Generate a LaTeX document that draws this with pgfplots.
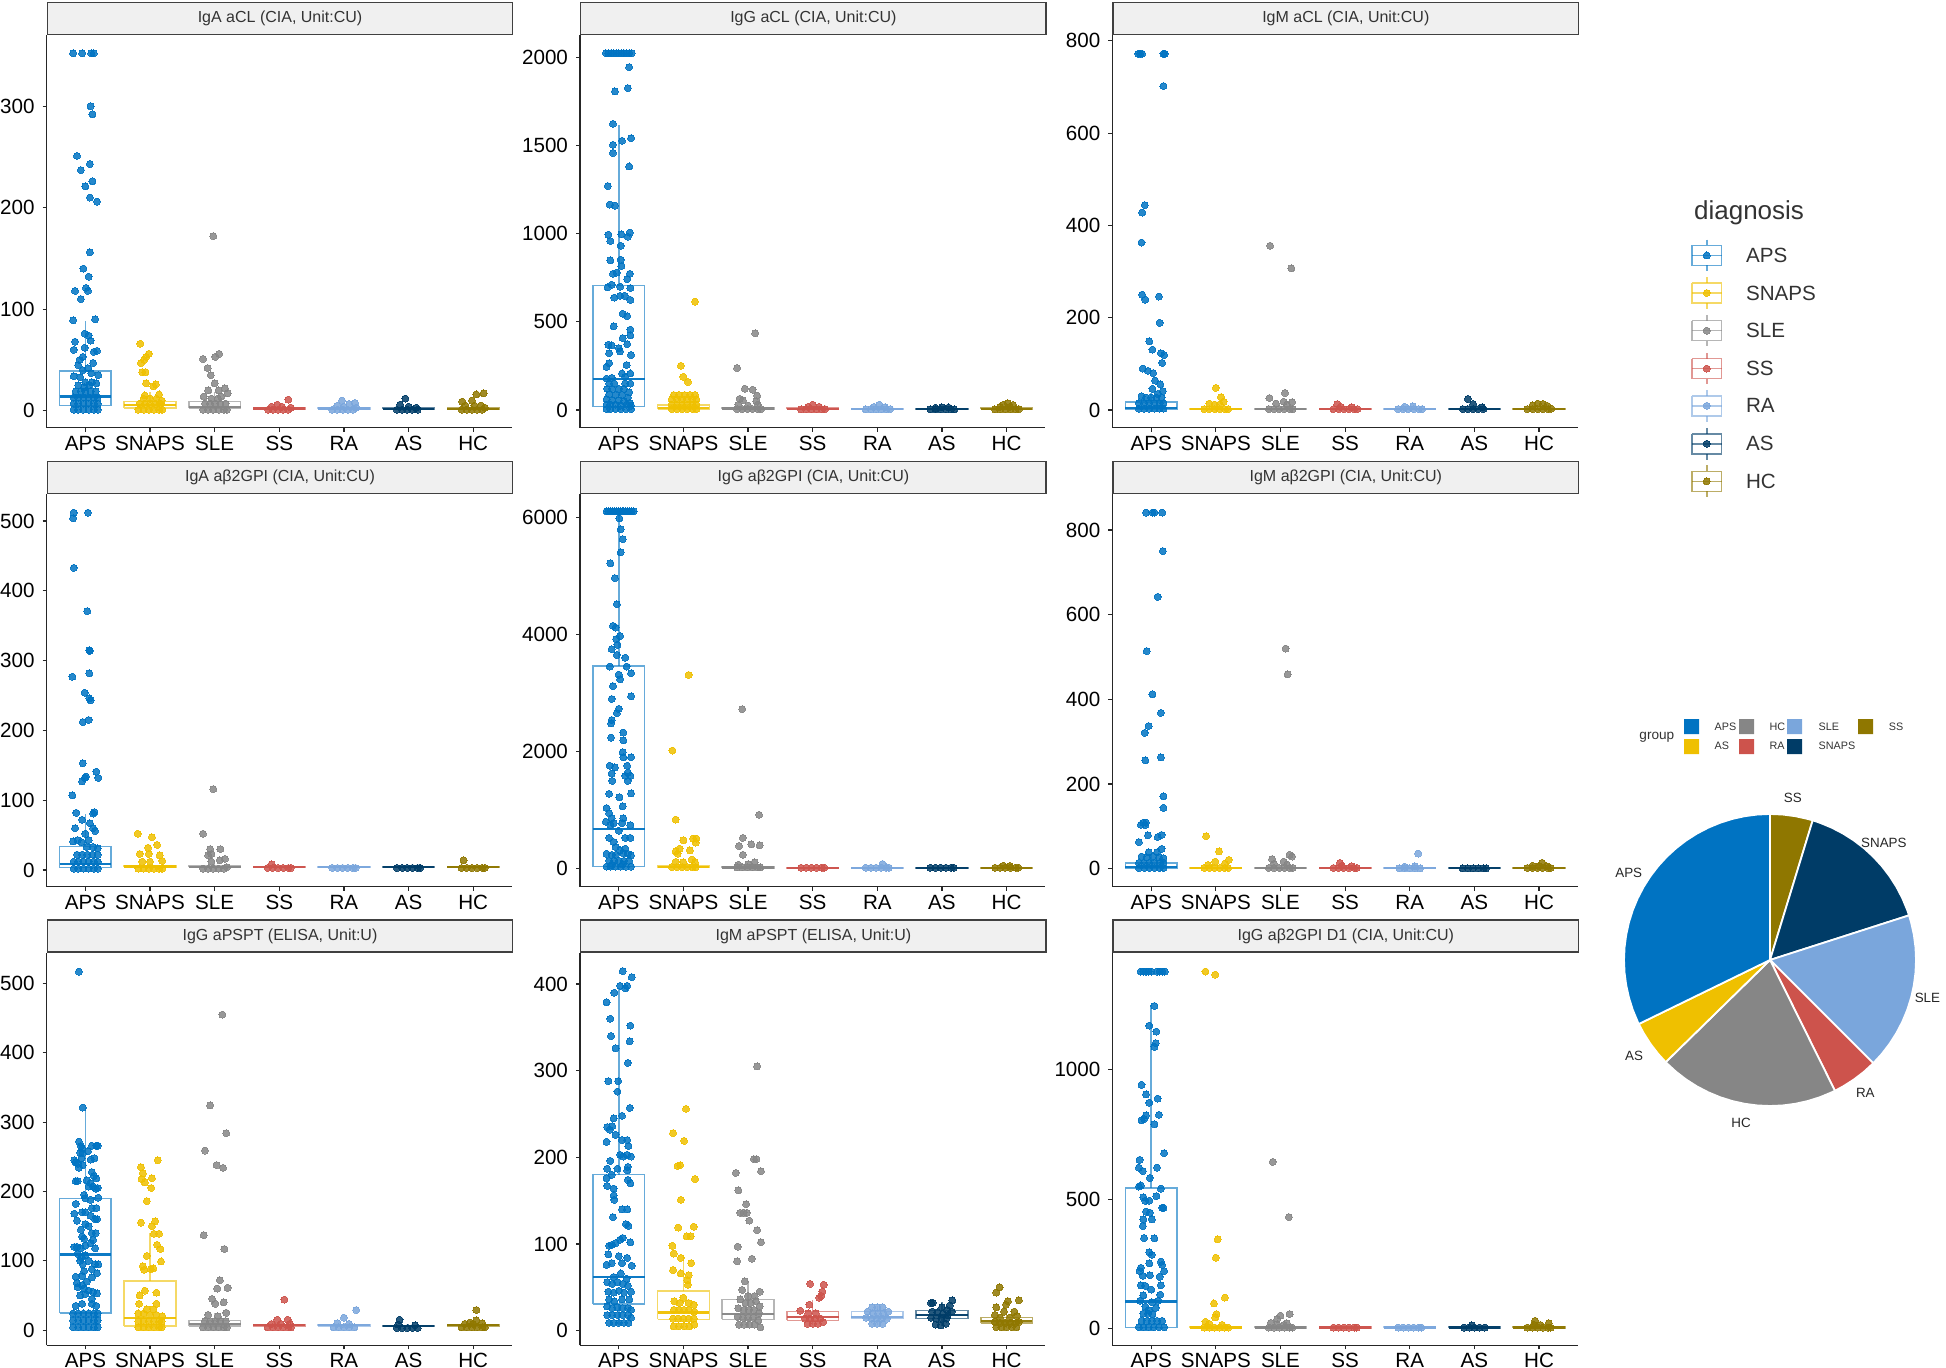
\documentclass[border=0pt]{standalone}
\usepackage{fontspec}
\setmainfont{Liberation Sans}
\usepackage{pgfplots}
\pgfplotsset{compat=1.18}

\definecolor{cAPS}{HTML}{0073C2}
\definecolor{cSNAPS}{HTML}{EFC000}
\definecolor{cSLE}{HTML}{868686}
\definecolor{cSS}{HTML}{CD534C}
\definecolor{cRA}{HTML}{7AA6DC}
\definecolor{cAS}{HTML}{003C67}
\definecolor{cHC}{HTML}{8F7700}

\newcommand{\tlab}{\fontsize{10.3}{12}\selectfont}

% one picture pixel = 0.5pt
\pgfplotsset{
  panel/.style={
    scale only axis, width=232.7pt, height=196.25pt, anchor=south west,
    xmin=0.4, xmax=7.6, xtick={1,2,3,4,5,6,7},
    xticklabels={APS,SNAPS,SLE,SS,RA,AS,HC},
    axis x line*=bottom, axis y line*=left,
    axis line style={-, line width=.75pt, black!85},
    every tick/.style={line width=.6pt, black!85},
    tick align=outside, major tick length=2pt,
    tick label style={font=\tlab, black},
    xticklabel style={yshift=2.3pt, text height=8pt, text depth=0pt},
    yticklabel style={xshift=-.5pt},
    scaled y ticks=false,
    /pgf/number format/assume math mode=true,
    /pgf/number format/1000 sep={},
    title style={at={(0,1)}, anchor=south west, yshift=-6pt, draw=black!75, fill=black!6,
      line width=.7pt, minimum width=232.7pt, minimum height=16pt, inner sep=0pt,
      font=\fontsize{8}{10}\selectfont, text=black!80},
  },
}

% points of one group
\newcommand{\pts}[2]{\addplot[only marks, mark=*, mark size=1.75pt, color=#1,
  mark options={fill=#1, line width=0pt, opacity=.85}] coordinates {#2};}
% box of one group: position, colour, lower whisker, q1, median, q3, upper whisker
\newcommand{\bx}[7]{%
  \pgfmathsetmacro\bl{#1-.4}\pgfmathsetmacro\br{#1+.4}%
  \addplot[draw=#2, draw opacity=.6, line width=.75pt] coordinates {(#1,#3)(#1,#4)};
  \addplot[draw=#2, draw opacity=.6, line width=.75pt] coordinates {(#1,#6)(#1,#7)};
  \addplot[draw=#2, draw opacity=.6, fill=white, fill opacity=.12, line width=.75pt] coordinates {(\bl,#4)(\br,#4)(\br,#6)(\bl,#6)(\bl,#4)};
  \addplot[draw=#2, draw opacity=.95, line width=1.1pt] coordinates {(\bl,#5)(\br,#5)};
}
% legend key in picture pixels: colour, whisker top, box top, middle, box bottom, whisker bottom
\newcommand{\lgkey}[6]{
  \addplot[#1, opacity=.6, line width=.75pt] coordinates {(1692,#3)(1721.5,#3)(1721.5,#5)(1692,#5)(1692,#3)};
  \addplot[#1, opacity=.6, line width=.75pt] coordinates {(1692,#4)(1721.5,#4)};
  \addplot[#1, opacity=.6, line width=.75pt] coordinates {(1706.7,#2)(1706.7,#3)};
  \addplot[#1, opacity=.6, line width=.75pt] coordinates {(1706.7,#5)(1706.7,#6)};
  \addplot[only marks, mark=*, mark size=1.75pt, color=#1, mark options={fill=#1, line width=0pt, opacity=.85}] coordinates {(1706.7,#4)};
}
% small swatch in picture pixels
\newcommand{\swatch}[5]{\addplot[draw=none, fill=#1] coordinates {(#2,#4)(#3,#4)(#3,#5)(#2,#5)(#2,#4)};}

\begin{document}
\begin{tikzpicture}
\useasboundingbox (0,0) rectangle (973pt,684pt);

% ---- row 1
\begin{axis}[panel, at={(23.3pt,470.2pt)}, title={IgA aCL (CIA, Unit:CU)}, ymin=-16.6, ymax=370, ytick={0,100,200,300}]
\pts{cAPS}{(.81,352)(.95,352)(1.09,352)(1.13,352)(1.08,300)(1.11,292)(.87,251)(1.07,243)(.93,237)(1.11,226)(1,221)(1.07,210)(1.18,206)(1.07,156)(.97,140)(1.05,132)(.84,118)(1.01,121)(1.04,118)(.93,110)(.81,89)(1.15,90)(.99,76)(1.05,74)(1.08,69)(.84,68)(.82,60)(.99,62)(1.18,59)(1.13,58)(.96,53)(.91,50)(1.12,47)(.89,45)(1.04,42)(.82,34)(1.2,35)(.96,40)(1.09,37)(.92,33)(1,28)(1.1,28)(1.17,27)(.82,1)(.89,1)(.97,1)(1.05,1)(1.13,1)(1.19,1)(.82,7)(.89,7)(.97,7)(1.05,7)(1.13,7)(1.19,7)(.82,13)(.89,13)(.97,13)(1.05,13)(1.13,13)(1.19,13)(.85,19)(.93,19)(1,19)(1.08,19)(1.16,19)(.89,25)(.98,23)(1.06,25)}
\pts{cSNAPS}{(1.85,66)(1.98,56)(1.94,53)(1.91,50)(1.86,47)(1.88,38)(1.93,38)(2.09,26)(1.94,27)(2.05,24)(2.14,16)(1.92,15)(2.18,10)(1.82,1)(1.9,1)(1.98,1)(2.06,1)(2.14,1)(2.19,1)(1.84,7)(1.92,7)(2,7)(2.08,7)(2.16,7)(1.9,12)(2,12)(2.1,12)}
\pts{cSLE}{(2.98,172)(2.82,51)(3.01,53)(3.07,56)(2.89,42)(2.94,35)(3,27)(3.16,22)(3.2,17)(2.9,20)(3.06,20)(2.83,14)(3.1,14)(2.82,1)(2.9,1)(2.98,1)(3.06,1)(3.14,1)(3.19,1)(2.85,7)(2.93,7)(3.01,7)(3.09,7)(3.17,7)(2.95,12)(3.05,12)}
\pts{cSS}{(4.14,11)(3.97,6)(3.83,1)(3.9,1)(3.98,1)(4.06,1)(4.14,1)(4.18,3)(3.88,4)(4.04,4)}
\pts{cRA}{(4.97,10)(5.17,7.6)(5.08,6.6)(4.9,5)(4.82,1)(4.9,1)(4.98,1)(5.06,1)(5.14,1)(5.19,3)(5,4)}
\pts{cAS}{(5.95,12)(5.87,6)(5.82,1)(5.9,1)(5.98,1)(6.06,1)(6.14,1)(6,4)(6.12,3)}
\pts{cHC}{(7.16,17)(7.05,16)(6.98,10)(6.83,9)(6.82,1)(6.9,1)(6.98,1)(7.06,1)(7.14,1)(7.18,3)(6.88,5)(7.02,5)(7.12,5)}
\bx{1}{cAPS}{1.5}{5}{14}{39}{88}
\bx{2}{cSNAPS}{1}{2.5}{6}{9}{18}
\bx{3}{cSLE}{1}{2.5}{4}{9}{18}
\bx{4}{cSS}{1}{1.6}{2.2}{3}{5}
\bx{5}{cRA}{1}{1.6}{2.2}{3}{5}
\bx{6}{cAS}{1}{1.6}{2}{3}{4}
\bx{7}{cHC}{1}{1.6}{2}{3}{4}
\end{axis}

\begin{axis}[panel, at={(290pt,470.2pt)}, title={IgG aCL (CIA, Unit:CU)}, ymin=-100, ymax=2128, ytick={0,500,1000,1500,2000}]
\pts{cAPS}{(.8,2025)(.84,2025)(.88,2025)(.92,2025)(.96,2025)(1,2025)(1.04,2025)(1.08,2025)(1.12,2025)(1.16,2025)(1.2,2025)(1.16,1946)(1.14,1827)(.94,1808)(.91,1624)(1.19,1543)(1.05,1528)(.91,1505)(.91,1459)(1.16,1382)(.83,1271)(.86,1166)(.94,1160)(.84,995)(1.17,1007)(1.04,997)(1.14,984)(.87,959)(1.03,932)(.87,849)(1.03,853)(1.04,817)(.97,780)(.91,773)(1.17,773)(1.13,742)(.83,696)(.89,711)(1.02,700)(1.18,692)(1.02,648)(.93,638)(1.09,648)(1.18,625)(1.06,546)(1.13,533)(.92,475)(1.18,456)(1.18,424)(1.06,408)(.84,370)(.89,366)(1.13,374)(1,351)(.85,322)(1.02,332)(1.19,312)(.85,265)(.81,245)(1.12,255)(1.18,207)(1.05,207)(1.1,188)(.89,182)(.81,178)(.85,150)(.93,150)(1.1,150)(1.18,150)(.82,120)(.9,120)(1,120)(1.08,120)(1.16,100)(.85,90)(.95,85)(1.05,85)(1.14,70)(.81,60)(.9,55)(1,55)(1.08,50)(1.17,40)(.81,30)(.87,30)(.95,30)(1.03,25)(1.12,30)(1.19,25)(.81,5)(.87,5)(.95,5)(1.03,5)(1.11,5)(1.19,5)}
\pts{cSNAPS}{(1.96,251)(2,188)(2.07,159)(2.18,615)(1.85,85)(1.93,85)(2.02,85)(2.1,85)(2.18,85)(1.82,60)(1.9,60)(1.98,60)(2.06,60)(2.14,60)(2.2,60)(1.82,30)(1.9,30)(1.98,30)(2.06,30)(2.14,30)(2.2,30)(1.82,5)(1.9,5)(1.98,5)(2.06,5)(2.14,5)(2.2,5)}
\pts{cSLE}{(3.11,435)(2.83,238)(2.95,121)(3.07,115)(3.14,82)(2.87,63)(2.92,55)(3.13,50)(2.85,30)(3.15,30)(3,25)(2.83,5)(2.91,5)(2.99,5)(3.07,5)(3.15,5)(3.2,5)}
\pts{cSS}{(4,30)(3.93,18)(4.1,18)(3.82,3)(3.9,3)(3.98,3)(4.06,3)(4.14,3)(4.19,5)}
\pts{cRA}{(5.03,30)(4.95,18)(5.12,16)(4.82,3)(4.9,3)(4.98,3)(5.06,3)(5.14,3)(5.2,5)}
\pts{cAS}{(6,15)(6.1,14)(5.9,12)(5.82,3)(5.9,3)(5.98,3)(6.06,3)(6.14,3)(6.19,3)}
\pts{cHC}{(7.02,38)(6.95,30)(7.1,28)(6.9,18)(7.05,18)(6.82,3)(6.9,3)(6.98,3)(7.06,3)(7.14,3)(7.19,5)}
\bx{1}{cAPS}{2}{19}{178}{706}{1620}
\bx{2}{cSNAPS}{1}{3}{10}{28}{65}
\bx{3}{cSLE}{1}{3}{8}{14}{30}
\bx{4}{cSS}{1}{3}{6}{10}{18}
\bx{5}{cRA}{1}{3}{5}{9}{16}
\bx{6}{cAS}{1}{3}{5}{8}{14}
\bx{7}{cHC}{1}{3}{6}{10}{18}
\end{axis}

\begin{axis}[panel, at={(556.2pt,470.2pt)}, title={IgM aCL (CIA, Unit:CU)}, ymin=-38, ymax=812.5, ytick={0,200,400,600,800}]
\pts{cAPS}{(.8,772)(.83,772)(.86,772)(1.19,772)(1.21,772)(1.19,702)(.9,444)(.86,428)(.85,363)(.86,250)(.91,239)(1.12,246)(1.13,189)(.97,149)(1.02,131)(1.15,123)(1.2,119)(1.17,102)(.87,90)(.95,85)(1.03,80)(1.06,64)(1.14,56)(1.02,46)(1.18,41)(1.1,35)(.85,30)(.92,27)(1,27)(1.08,27)(1.16,27)(.81,15)(.89,15)(.97,15)(1.05,15)(1.13,15)(1.19,15)(.81,3)(.89,3)(.97,3)(1.05,3)(1.13,3)(1.19,3)}
\pts{cSNAPS}{(2,48)(2.08,28)(2.12,18)(1.9,14)(1.98,12)(2.06,12)(1.82,2)(1.9,2)(1.98,2)(2.06,2)(2.14,2)(2.19,2)}
\pts{cSLE}{(2.84,356)(3.17,307)(3.07,37)(2.83,26)(3.18,17)(3.05,18)(2.93,14)(3.1,12)(2.82,2)(2.9,2)(2.98,2)(3.06,2)(3.14,2)(3.19,2)}
\pts{cSS}{(3.88,13)(3.93,7)(4.1,6)(3.82,2)(3.9,2)(3.98,2)(4.06,2)(4.14,2)(4.19,2)}
\pts{cRA}{(4.92,7)(5.05,8)(4.82,2)(4.9,2)(4.98,2)(5.06,2)(5.14,2)(5.19,2)}
\pts{cAS}{(5.9,24)(5.98,13)(6.12,6)(5.82,2)(5.9,2)(5.98,2)(6.06,2)(6.14,2)}
\pts{cHC}{(6.98,14)(7.06,13)(6.9,10)(7.13,9)(6.82,2)(6.9,2)(6.98,2)(7.06,2)(7.14,2)(7.19,3)}
\bx{1}{cAPS}{.5}{1}{4}{17}{38}
\bx{2}{cSNAPS}{.5}{1}{2}{3.5}{6}
\bx{3}{cSLE}{.5}{1}{2}{3.5}{6}
\bx{4}{cSS}{.5}{1}{2}{3}{5}
\bx{5}{cRA}{.5}{1}{2}{3}{5}
\bx{6}{cAS}{.5}{1}{2}{3}{5}
\bx{7}{cHC}{.5}{1}{2}{3}{5}
\end{axis}

% ---- row 2
\begin{axis}[panel, at={(23.3pt,240.7pt)}, title={IgA aβ2GPI (CIA, Unit:CU)}, ymin=-23.7, ymax=538.7, ytick={0,100,200,300,400,500}]
\pts{cAPS}{(.82,512)(1.04,512)(.81,504)(.82,433)(1.03,371)(1.06,315)(1.07,314)(1.06,282)(.8,277)(.99,254)(1.06,246)(1.08,243)(1.05,215)(.96,212)(.96,153)(1.17,141)(1.2,132)(1.01,134)(.99,132)(.95,127)(.8,107)(1.14,83)(1.12,81)(.86,82)(.95,72)(1.07,67)(.84,60)(1.12,60)(1.15,56)(1,52)(.81,41)(.88,43)(.94,40)(1.05,43)(1.02,33)(1.12,33)(1.19,31)(.87,22)(.95,22)(1.03,22)(1.11,22)(1.19,22)(.82,12)(.89,12)(.97,12)(1.05,12)(1.13,12)(1.19,12)(.82,2)(.89,2)(.97,2)(1.05,2)(1.13,2)(1.19,2)}
\pts{cSNAPS}{(1.81,52)(2.03,47)(2.11,36)(1.97,32)(1.84,23)(1.98,23)(2.15,21)(2.19,13)(1.88,12)(2,12)(1.82,2)(1.9,2)(1.98,2)(2.06,2)(2.14,2)(2.19,2)}
\pts{cSLE}{(2.98,116)(2.82,52)(3.09,30)(2.93,30)(2.95,23)(2.9,21)(3.16,16)(3.08,14)(2.95,12)(2.82,2)(2.9,2)(2.98,2)(3.06,2)(3.14,2)(3.19,4)}
\pts{cSS}{(3.88,8)(3.82,3)(3.9,3)(3.98,3)(4.06,3)(4.14,3)(4.18,3)}
\pts{cRA}{(4.82,3)(4.9,3)(4.98,3)(5.06,3)(5.14,3)(5.18,3)}
\pts{cAS}{(5.82,3)(5.9,3)(5.98,3)(6.06,3)(6.14,3)(6.18,3)}
\pts{cHC}{(6.85,14)(6.82,3)(6.9,3)(6.98,3)(7.06,3)(7.14,3)(7.18,3)}
\bx{1}{cAPS}{1}{3.5}{9}{34}{80}
\bx{2}{cSNAPS}{2}{4}{5}{6}{8}
\bx{3}{cSLE}{2}{4}{4.5}{5.5}{8}
\bx{4}{cSS}{2}{3.5}{4}{5}{6}
\bx{5}{cRA}{2}{3.5}{4}{5}{6}
\bx{6}{cAS}{2}{3.5}{4}{5}{6}
\bx{7}{cHC}{2}{3.5}{4}{5}{6}
\end{axis}

\begin{axis}[panel, at={(290pt,240.7pt)}, title={IgG aβ2GPI (CIA, Unit:CU)}, ymin=-312, ymax=6394, ytick={0,2000,4000,6000}]
\pts{cAPS}{(.81,6098)(.84,6098)(.87,6098)(.9,6098)(.93,6098)(.96,6098)(.99,6098)(1.02,6098)(1.05,6098)(1.08,6098)(1.11,6098)(1.14,6098)(1.17,6098)(1.2,6098)(1.23,6098)(1.01,5977)(1.03,5792)(1.06,5624)(1.03,5398)(.87,5213)(.94,4959)(.97,4513)(.91,4143)(.95,4114)(1.02,3969)(.96,3917)(.98,3819)(.89,3744)(.97,3645)(1.1,3599)(.86,3448)(1.12,3448)(1.19,3333)(1,3310)(1.02,3229)(.91,3113)(1.19,2939)(.89,2893)(1,2725)(.97,2650)(.89,2534)(.88,2476)(1.07,2320)(.88,2233)(1.07,2187)(1.06,1985)(1.19,1898)(1.07,1898)(.86,1753)(.94,1724)(1.13,1753)(1.14,1637)(.89,1620)(1.1,1580)(1.18,1580)(1.14,1493)(.9,1493)(.85,1273)(1.19,1279)(1.01,1215)(1.06,1059)(.81,1030)(.85,943)(1.07,856)(.89,856)(.8,798)(.92,770)(1.18,740)(1.05,770)(.87,740)(1,642)(.85,520)(1.18,520)(1.1,520)(.92,451)(.95,365)(1.1,335)(1.02,306)(.81,249)(1.19,220)(.89,230)(1.07,260)(.95,230)(1.14,250)(.85,130)(.93,130)(1,130)(1.08,130)(1.16,130)(.81,30)(.87,30)(.95,30)(1.03,30)(1.11,30)(1.19,30)(.89,60)(1.06,70)}
\pts{cSNAPS}{(2.08,3304)(1.83,2013)(1.88,833)(2,480)(2.15,509)(2.2,509)(2.19,440)(1.94,335)(1.88,289)(2.1,306)(1.91,250)(2.13,150)(1.88,110)(2.0,100)(2.18,100)(1.82,20)(1.9,20)(1.98,20)(2.06,20)(2.14,20)(2.19,20)}
\pts{cSLE}{(2.91,2719)(3.17,914)(2.92,520)(2.86,382)(3.05,410)(3.18,393)(2.92,231)(3.1,100)(2.85,60)(3,70)(2.83,15)(2.91,15)(2.99,15)(3.07,15)(3.15,15)(3.19,15)}
\pts{cSS}{(3.82,10)(3.9,10)(3.98,10)(4.06,10)(4.14,10)(4.18,10)}
\pts{cRA}{(5.08,75)(4.82,10)(4.9,10)(4.98,10)(5.06,10)(5.14,10)(5.18,10)}
\pts{cAS}{(5.82,10)(5.9,10)(5.98,10)(6.06,10)(6.14,10)(6.18,10)}
\pts{cHC}{(6.95,45)(7.05,40)(6.82,10)(6.9,10)(6.98,10)(7.06,10)(7.14,10)(7.18,10)}
\bx{1}{cAPS}{5}{29}{671}{3460}{6098}
\bx{2}{cSNAPS}{5}{10}{20}{40}{80}
\bx{3}{cSLE}{5}{8}{14}{22}{40}
\bx{4}{cSS}{5}{8}{10}{14}{20}
\bx{5}{cRA}{5}{8}{10}{14}{20}
\bx{6}{cAS}{5}{8}{10}{14}{20}
\bx{7}{cHC}{5}{8}{10}{14}{20}
\end{axis}

\begin{axis}[panel, at={(556.2pt,240.7pt)}, title={IgM aβ2GPI (CIA, Unit:CU)}, ymin=-42, ymax=884.6, ytick={0,200,400,600,800}]
\pts{cAPS}{(.92,841)(1.02,841)(1.05,841)(1.17,841)(1.18,750)(1.1,642)(.93,514)(1.02,412)(1.15,368)(.96,337)(.9,321)(.91,256)(1.15,263)(1.19,171)(1.19,144)(.88,109)(.92,109)(.84,104)(.91,103)(.95,79)(1.1,75)(1.16,80)(.81,63)(1.16,47)(1.09,39)(.96,39)(.85,29)(.93,27)(1.03,29)(1.12,27)(1.19,25)(.81,14)(.89,14)(.97,14)(1.05,14)(1.13,14)(1.19,14)(.81,2)(.89,2)(.97,2)(1.05,2)(1.13,2)(1.19,2)}
\pts{cSNAPS}{(1.85,77)(2.05,41)(2.2,21)(1.99,17)(2.14,12)(1.88,9)(1.82,2)(1.9,2)(1.98,2)(2.06,2)(2.14,2)(2.19,2)}
\pts{cSLE}{(3.08,520)(3.11,459)(3.14,33)(3.18,29)(2.87,23)(3.05,17)(2.9,12)(3.1,10)(2.82,2)(2.9,2)(2.98,2)(3.06,2)(3.14,2)(3.19,2)}
\pts{cSS}{(3.92,14)(3.95,7)(4.1,6)(3.82,2)(3.9,2)(3.98,2)(4.06,2)(4.14,2)(4.18,2)}
\pts{cRA}{(5.13,36)(4.92,5)(5.08,6)(4.84,1)(4.92,1)(5,1)(5.08,1)(5.16,1)}
\pts{cAS}{(5.82,1)(5.9,1)(5.98,1)(6.06,1)(6.14,1)(6.18,1)}
\pts{cHC}{(7.05,14)(6.9,7)(7,6)(7.12,6)(6.82,2)(6.9,2)(6.98,2)(7.06,2)(7.14,2)(7.18,2)}
\bx{1}{cAPS}{.5}{1}{4}{14}{32}
\bx{2}{cSNAPS}{.5}{1}{2}{3}{5}
\bx{3}{cSLE}{.5}{1}{2}{3}{5}
\bx{4}{cSS}{.5}{1}{2}{3}{5}
\bx{5}{cRA}{.5}{1}{2}{3}{5}
\bx{6}{cAS}{.5}{1}{2}{3}{5}
\bx{7}{cHC}{.5}{1}{2}{3}{5}
\end{axis}

% ---- row 3
\begin{axis}[panel, at={(23.3pt,11.3pt)}, title={IgG aPSPT (ELISA, Unit:U)}, ymin=-22, ymax=544, ytick={0,100,200,300,400,500}]
\pts{cAPS}{(.9,517)(.96,321)(.9,272)(.93,265)(.95,262)(1.1,266)(1.17,266)(1.19,266)(.92,256)(.96,255)(1.04,258)(.94,248)(1.14,248)(1.08,246)(.83,245)(.88,240)(.85,242)(.96,238)(.9,234)(1.1,228)(1.13,222)(1.17,219)(.85,215)(.88,215)(1.02,216)(1.08,212)(1.05,207)(1.12,207)(1.19,205)(1.16,204)(.98,195)(1,190)(1.2,191)(1.08,188)(.85,182)(1.1,176)(1.17,176)(.95,170)(1,170)(.83,168)(1.08,165)(1.15,160)(1.18,160)(.87,158)(1,153)(1.05,150)(.93,145)(1.1,140)(1.16,140)(.95,135)(.98,132)(1.12,130)(.83,120)(.87,120)(.93,118)(1,122)(1.08,125)(1.15,118)(.88,110)(.94,105)(1,108)(1.05,100)(.92,100)(.96,95)(1.15,95)(1.2,95)(1.1,88)(.98,85)(1.18,82)(.85,77)(.95,78)(1.1,76)(1.02,70)(.87,68)(.95,65)(.98,60)(1.05,57)(.88,62)(1.12,55)(1.18,53)(.92,50)(1,52)(1.1,45)(.85,35)(.95,38)(1.1,38)(1.17,35)(.81,24)(.89,24)(.97,24)(1.05,24)(1.13,24)(1.19,24)(.81,14)(.89,14)(.97,14)(1.05,14)(1.13,14)(1.19,14)(.81,4)(.89,4)(.97,4)(1.05,4)(1.13,4)(1.19,4)}
\pts{cSNAPS}{(2.12,245)(1.86,235)(1.89,226)(1.87,218)(2.03,219)(1.92,213)(2.02,205)(1.95,186)(2.08,157)(1.86,155)(2.03,150)(2.06,139)(2.14,139)(2.11,123)(2.16,117)(1.95,107)(2.17,99)(1.89,92)(2.05,89)(1.91,87)(2.01,88)(1.92,57)(2.1,54)(1.84,50)(1.83,38)(2.1,38)(1.95,30)(2.05,30)(1.82,24)(1.9,24)(2,22)(2.1,22)(2.19,20)(1.82,13)(1.9,13)(1.98,13)(2.06,13)(2.14,13)(2.18,13)(1.82,4)(1.9,4)(1.98,4)(2.06,4)(2.14,4)(2.18,4)}
\pts{cSLE}{(3.12,455)(2.93,324)(3.18,284)(2.85,259)(3.03,238)(3.13,234)(2.83,137)(3.15,117)(3.08,72)(3.04,60)(3.2,61)(2.96,45)(3.14,40)(3.01,38)(2.9,22)(3.18,25)(3.05,20)(2.85,13)(2.93,13)(3.01,13)(3.09,13)(3.17,13)(2.82,4)(2.9,4)(2.98,4)(3.06,4)(3.14,4)(3.19,4)}
\pts{cSS}{(4.08,44)(3.97,15)(4.13,15)(3.88,9)(4.02,9)(4.16,9)(3.82,4)(3.9,4)(3.98,4)(4.06,4)(4.14,4)(4.18,4)}
\pts{cRA}{(5.19,29)(5,18)(4.9,10)(5.08,9)(4.84,4)(4.92,4)(5,4)(5.08,4)(5.16,4)}
\pts{cAS}{(5.86,15)(5.84,8)(6.1,7)(5.82,3)(5.9,3)(5.98,3)(6.06,3)(6.14,3)}
\pts{cHC}{(7.05,29)(7.05,14)(6.95,11)(7.14,10)(6.82,4)(6.9,4)(6.98,4)(7.06,4)(7.14,4)(7.18,4)(6.87,9)(7,9)}
\bx{1}{cAPS}{3}{25}{109}{190}{320}
\bx{2}{cSNAPS}{3}{6}{17}{71}{140}
\bx{3}{cSLE}{3}{6}{9}{14}{25}
\bx{4}{cSS}{3}{6}{7}{8}{11}
\bx{5}{cRA}{3}{6}{7}{8}{11}
\bx{6}{cAS}{3}{5}{6}{7}{9}
\bx{7}{cHC}{3}{6}{7}{8}{11}
\end{axis}

\begin{axis}[panel, at={(290pt,11.3pt)}, title={IgM aPSPT (ELISA, Unit:U)}, ymin=-17, ymax=436, ytick={0,100,200,300,400}]
\pts{cAPS}{(1.06,415)(1.2,408)(1.02,398)(1.13,398)(1.1,395)(.93,390)(.81,379)(.87,360)(1.18,352)(.88,340)(1.17,334)(.95,326)(1.14,309)(.84,288)(.99,288)(.98,276)(1.17,257)(1.05,248)(.92,245)(.82,235)(.9,236)(.86,232)(.95,226)(.81,218)(1.05,220)(1.13,220)(1.15,213)(1.19,201)(1.02,203)(1.13,203)(1.07,201)(.87,196)(.82,187)(.98,187)(1.14,189)(1.13,185)(.89,180)(.81,176)(1.14,174)(1.18,170)(.82,167)(.92,164)(.92,156)(.93,151)(1.05,140)(1.13,140)(.91,131)(1.11,123)(1.15,121)(1.06,107)(1.02,105)(1.18,102)(.85,98)(.95,101)(.89,99)(.84,88)(1,86)(1.13,84)(.89,78)(.81,76)(1.2,75)(1.05,78)(.92,62)(1.03,66)(1.12,60)(.82,56)(.9,54)(.98,56)(1.06,54)(1.14,52)(1.19,45)(.84,45)(.92,44)(1,46)(1.08,44)(1.16,36)(.85,36)(.93,34)(1.05,36)(.82,28)(.9,26)(.98,27)(1.06,26)(1.14,26)(1.19,24)(.82,18)(.9,18)(.98,18)(1.06,18)(1.14,18)(1.19,15)(.85,9)(.92,9)(1,9)(1.08,9)(1.15,9)}
\pts{cSNAPS}{(2.04,256)(1.84,228)(2.01,219)(1.91,190)(1.95,191)(2.18,175)(1.96,151)(1.92,119)(2.16,120)(2.05,109)(2.11,109)(1.83,98)(1.85,89)(1.96,84)(2.12,78)(1.84,70)(1.96,66)(2.08,64)(2.06,58)(2.07,53)(2,38)(1.86,34)(1.94,32)(2.08,32)(2.16,30)(1.85,24)(1.93,24)(2.01,24)(2.09,24)(2.17,22)(1.84,14)(1.92,14)(2,14)(2.08,14)(2.16,14)(1.85,5)(1.93,5)(2.01,5)(2.09,5)(2.17,7)}
\pts{cSLE}{(3.14,305)(3.09,198)(3.13,198)(2.81,182)(3.2,184)(2.85,162)(2.97,146)(2.88,136)(2.93,136)(2.98,136)(3.02,127)(3.14,116)(3.2,102)(2.84,97)(3.06,83)(2.83,80)(2.95,57)(2.91,47)(3.18,45)(3.1,40)(3,40)(2.88,36)(2.96,32)(3.04,32)(3.12,34)(3.18,28)(2.85,26)(2.93,24)(3.01,24)(3.09,24)(3.17,20)(2.84,16)(2.92,15)(3,15)(3.08,15)(3.16,12)(2.86,7)(2.94,7)(3.02,7)(3.1,7)(3.19,4)}
\pts{cSS}{(3.96,54)(4.17,53)(4.15,45)(4.13,40)(4.1,38)(3.95,30)(3.81,23)(3.93,20)(4.05,20)(3.88,14)(3.96,14)(4.04,14)(4.12,14)(3.92,8)(4,8)(4.08,8)(4.16,10)}
\pts{cRA}{(4.92,27)(5,27)(5.08,27)(4.85,22)(4.93,20)(5.01,20)(5.09,20)(5.17,22)(4.83,15)(4.91,14)(4.99,14)(5.07,14)(5.15,14)(4.92,8)(5,8)(5.08,8)}
\pts{cAS}{(5.83,32)(5.86,32)(6.16,35)(6.12,29)(6,27)(6.08,24)(5.85,22)(5.93,21)(6.01,19)(6.09,18)(6.15,22)(5.83,15)(5.91,14)(5.99,14)(6.07,14)(5.9,7)(5.98,6)(6.06,8)}
\pts{cHC}{(6.89,50)(6.84,44)(7.19,35)(7.02,34)(6.99,30)(6.84,27)(7.12,22)(6.96,22)(6.82,18)(6.9,15)(7.05,15)(7.16,17)(6.82,10)(6.9,9)(6.98,9)(7.06,9)(7.14,9)(7.19,10)(6.84,4)(6.92,4)(7,4)(7.08,4)(7.15,4)}
\bx{1}{cAPS}{6}{31}{62}{180}{395}
\bx{2}{cSNAPS}{3}{13}{21}{46}{85}
\bx{3}{cSLE}{3}{13}{19}{36}{57}
\bx{4}{cSS}{6}{12}{16}{22}{35}
\bx{5}{cRA}{6}{14}{16}{22}{28}
\bx{6}{cAS}{5}{14}{18}{23}{33}
\bx{7}{cHC}{3}{9}{11}{15}{22}
\end{axis}

\begin{axis}[panel, at={(556.2pt,11.3pt)}, title={IgG aβ2GPI D1 (CIA, Unit:CU)}, ymin=-65, ymax=1452, ytick={0,500,1000}]
\pts{cAPS}{(.84,1380)(.88,1380)(.92,1380)(.96,1380)(1,1380)(1.09,1380)(1.13,1380)(1.17,1380)(1.21,1380)(1.05,1247)(.97,1171)(1.08,1148)(1.07,1103)(1.05,1089)(.85,942)(.92,905)(1.1,889)(.97,873)(1.12,826)(.92,824)(.89,810)(.85,805)(1.05,790)(1.2,678)(.82,652)(.81,622)(1.09,622)(.87,609)(.98,582)(.84,553)(.81,549)(1.15,541)(1.08,512)(.88,507)(.97,494)(.91,494)(1.17,467)(1.19,467)(.92,452)(.98,448)(.88,422)(1.01,422)(.87,396)(.89,350)(1.05,349)(.97,295)(1.01,285)(1.15,259)(.97,252)(.84,235)(1.17,246)(1.2,222)(.82,222)(.98,206)(.87,204)(1.13,200)(1.15,167)(.84,167)(.91,165)(1,151)(1.14,131)(.88,128)(.83,108)(1.01,102)(1.11,108)(.91,85)(.96,72)(1.07,80)(.88,58)(1.02,55)(.95,58)(1.17,30)(.85,30)(.93,30)(1.01,30)(1.09,30)(.81,5)(.88,5)(.96,5)(1.04,5)(1.12,5)(1.2,5)}
\pts{cSNAPS}{(1.84,1380)(1.99,1368)(2.03,345)(2,274)(2.14,120)(1.97,97)(2.01,56)(1.99,43)(1.84,26)(1.9,18)(2.1,14)(1.82,4)(1.9,4)(1.98,4)(2.06,4)(2.14,4)(2.19,4)}
\pts{cSLE}{(2.88,644)(3.13,431)(3.14,56)(3,50)(2.95,37)(2.85,22)(3.1,20)(2.95,16)(3.05,14)(2.82,4)(2.9,4)(2.98,4)(3.06,4)(3.14,4)(3.18,4)}
\pts{cSS}{(3.82,4)(3.9,4)(3.98,4)(4.06,4)(4.14,4)(4.18,4)}
\pts{cRA}{(4.82,4)(4.9,4)(4.98,4)(5.06,4)(5.14,4)(5.18,4)}
\pts{cAS}{(5.84,4)(5.92,4)(5.96,12)(6,4)(6.08,4)(6.16,4)}
\pts{cHC}{(6.94,30)(7.15,21)(6.82,4)(6.9,4)(6.98,4)(7.06,4)(7.14,4)(7.18,4)(6.92,15)(7.02,14)}
\bx{1}{cAPS}{2}{5}{105}{544}{1247}
\bx{2}{cSNAPS}{1}{2}{4}{7}{12}
\bx{3}{cSLE}{1}{2}{4}{7}{12}
\bx{4}{cSS}{1}{2}{4}{6}{8}
\bx{5}{cRA}{1}{2}{4}{6}{8}
\bx{6}{cAS}{1}{2}{4}{6}{8}
\bx{7}{cHC}{1}{2}{4}{6}{8}
\end{axis}

% ---- pie
\begin{axis}[scale only axis, width=146pt, height=146pt, at={(885pt,204pt)}, anchor=center,
  xmin=-1, xmax=1, ymin=-1, ymax=1, hide axis, clip=false]
\addplot[data cs=polar, fill=cHC, draw=white, line width=.9pt, line join=round] coordinates {(0,0)(90,1)(85,1)(80,1)(75,1)(73,1)(0,0)};
\addplot[data cs=polar, fill=cAS, draw=white, line width=.9pt, line join=round] coordinates {(0,0)(73,1)(70,1)(65,1)(60,1)(55,1)(50,1)(45,1)(40,1)(35,1)(30,1)(25,1)(20,1)(17.8,1)(0,0)};
\addplot[data cs=polar, fill=cRA, draw=white, line width=.9pt, line join=round] coordinates {(0,0)(17.8,1)(15,1)(10,1)(5,1)(0,1)(-5,1)(-10,1)(-15,1)(-20,1)(-25,1)(-30,1)(-35,1)(-40,1)(-45,1)(0,0)};
\addplot[data cs=polar, fill=cSS, draw=white, line width=.9pt, line join=round] coordinates {(0,0)(-45,1)(-50,1)(-55,1)(-60,1)(-63.6,1)(0,0)};
\addplot[data cs=polar, fill=cSLE, draw=white, line width=.9pt, line join=round] coordinates {(0,0)(-63.6,1)(-65,1)(-70,1)(-75,1)(-80,1)(-85,1)(-90,1)(-95,1)(-100,1)(-105,1)(-110,1)(-115,1)(-120,1)(-125,1)(-130,1)(-135,1)(-135.6,1)(0,0)};
\addplot[data cs=polar, fill=cSNAPS, draw=white, line width=.9pt, line join=round] coordinates {(0,0)(-135.6,1)(-140,1)(-145,1)(-150,1)(-154,1)(0,0)};
\addplot[data cs=polar, fill=cAPS, draw=white, line width=.9pt, line join=round] coordinates {(0,0)(-154,1)(-155,1)(-160,1)(-165,1)(-170,1)(-175,1)(-180,1)(-185,1)(-190,1)(-195,1)(-200,1)(-205,1)(-210,1)(-215,1)(-220,1)(-225,1)(-230,1)(-235,1)(-240,1)(-245,1)(-250,1)(-255,1)(-260,1)(-265,1)(-270,1)(0,0)};
\end{axis}

% ---- legends and pie labels, in picture pixels
\begin{axis}[scale only axis, width=973pt, height=684pt, at={(0pt,0pt)}, anchor=south west,
  xmin=0, xmax=1946, ymin=0, ymax=1368, y dir=reverse, hide axis, clip=false,
  every node/.append style={inner sep=0pt}]
\lgkey{cAPS}{239.7}{245.5}{255.5}{265.5}{271.3}
\lgkey{cSNAPS}{277.2}{283}{293}{303}{308.8}
\lgkey{cSLE}{314.9}{320.7}{330.7}{340.7}{346.5}
\lgkey{cSS}{352.8}{358.6}{368.6}{378.6}{384.4}
\lgkey{cRA}{390}{395.8}{405.8}{415.8}{421.6}
\lgkey{cAS}{428}{433.8}{443.8}{453.8}{459.6}
\lgkey{cHC}{465.5}{471.3}{481.3}{491.3}{497.1}
\swatch{cAPS}{1684}{1699}{719}{734}
\swatch{cSNAPS}{1684}{1699}{739}{754}
\swatch{cSLE}{1739}{1754}{719}{734}
\swatch{cSS}{1739}{1754}{739}{754}
\swatch{cRA}{1787}{1802}{719}{734}
\swatch{cAS}{1787}{1802}{739}{754}
\swatch{cHC}{1858}{1873}{719}{734}
\node[anchor=west, font=\fontsize{13}{15}\selectfont, text=black!80] at (axis cs:1687,213) {diagnosis};
\node[anchor=west, font=\tlab, text=black!80] at (axis cs:1739,255.5) {APS};
\node[anchor=west, font=\tlab, text=black!80] at (axis cs:1739,293) {SNAPS};
\node[anchor=west, font=\tlab, text=black!80] at (axis cs:1739,330.7) {SLE};
\node[anchor=west, font=\tlab, text=black!80] at (axis cs:1739,368.6) {SS};
\node[anchor=west, font=\tlab, text=black!80] at (axis cs:1739,405.8) {RA};
\node[anchor=west, font=\tlab, text=black!80] at (axis cs:1739,443.8) {AS};
\node[anchor=west, font=\tlab, text=black!80] at (axis cs:1739,481.3) {HC};
\node[font=\fontsize{6.8}{8}\selectfont, text=black!80] at (axis cs:1656.8,737) {group};
\node[anchor=west, font=\fontsize{5.4}{7}\selectfont, text=black!80] at (axis cs:1707.6,726.7) {APS};
\node[anchor=west, font=\fontsize{5.4}{7}\selectfont, text=black!80] at (axis cs:1707.6,746) {AS};
\node[anchor=west, font=\fontsize{5.4}{7}\selectfont, text=black!80] at (axis cs:1762.4,726.7) {HC};
\node[anchor=west, font=\fontsize{5.4}{7}\selectfont, text=black!80] at (axis cs:1762.4,746) {RA};
\node[anchor=west, font=\fontsize{5.4}{7}\selectfont, text=black!80] at (axis cs:1811.5,726.7) {SLE};
\node[anchor=west, font=\fontsize{5.4}{7}\selectfont, text=black!80] at (axis cs:1811.5,746) {SNAPS};
\node[anchor=west, font=\fontsize{5.4}{7}\selectfont, text=black!80] at (axis cs:1881.8,726.7) {SS};
\node[font=\fontsize{6.7}{8}\selectfont, text=black!85] at (axis cs:1792.7,797.4) {SS};
\node[font=\fontsize{6.7}{8}\selectfont, text=black!85] at (axis cs:1883.8,842.9) {SNAPS};
\node[font=\fontsize{6.7}{8}\selectfont, text=black!85] at (axis cs:1927.4,997.7) {SLE};
\node[font=\fontsize{6.7}{8}\selectfont, text=black!85] at (axis cs:1865.3,1092.7) {RA};
\node[font=\fontsize{6.7}{8}\selectfont, text=black!85] at (axis cs:1741,1123) {HC};
\node[font=\fontsize{6.7}{8}\selectfont, text=black!85] at (axis cs:1634,1055.4) {AS};
\node[font=\fontsize{6.7}{8}\selectfont, text=black!85] at (axis cs:1628.7,873) {APS};
\end{axis}
\end{tikzpicture}
\end{document}
